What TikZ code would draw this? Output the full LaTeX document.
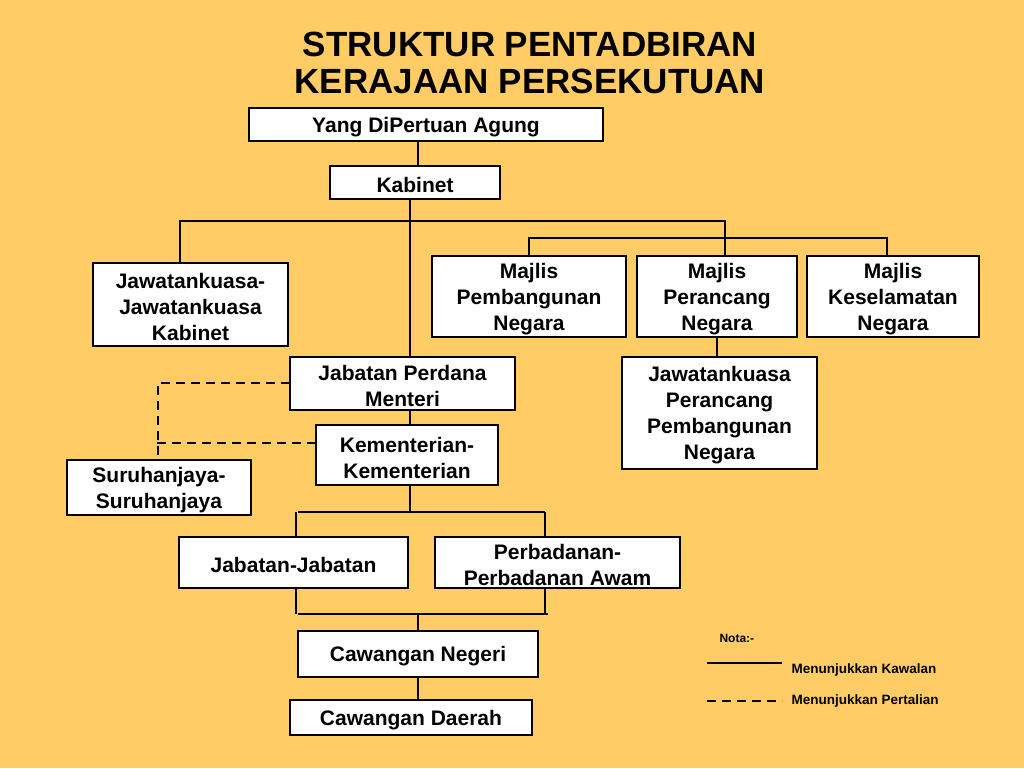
\documentclass[tikz,border=0pt]{standalone}
\usepackage{fontspec}
\setmainfont{Liberation Sans}
\begin{document}
\begin{tikzpicture}[x=1pt,y=-1pt,
 bx/.style={draw=black,fill=white,line width=2.5pt},
 tx/.style={font=\bfseries\fontsize{21}{26}\selectfont,align=center,yshift=-2.5pt},
 ln/.style={line width=1.8pt},
 dl/.style={line width=2pt,dash pattern=on 9pt off 6pt}]
\fill[fill={rgb,255:red,255;green,204;blue,102}] (0,0) rectangle (1024,768);
\useasboundingbox (0,0) rectangle (1024,768);
\node[font=\bfseries\fontsize{35}{37}\selectfont,align=center] (title) at (530,63) {STRUKTUR PENTADBIRAN\\KERAJAAN PERSEKUTUAN};
\newcommand\bxx[6]{\draw[bx] (#2,#4) rectangle (#3,#5); \node[tx] (#1) at ({(#2+#3)/2},{(#4+#5)/2}) {#6};}
\bxx{ya}{249}{603}{108}{141}{Yang DiPertuan Agung}
\bxx{kab}{330}{500}{166}{199}{Kabinet}
\bxx{jjk}{93}{288}{263}{346}{Jawatankuasa-\\Jawatankuasa\\Kabinet}
\bxx{mpn}{432}{626}{256}{337}{Majlis\\Pembangunan\\Negara}
\bxx{mpr}{637}{797}{256}{337}{Majlis\\Perancang\\Negara}
\bxx{mkn}{807}{979}{256}{337}{Majlis\\Keselamatan\\Negara}
\bxx{jpm}{290}{515}{357}{410}{Jabatan Perdana\\Menteri}
\bxx{kem}{316}{498}{425}{485}{Kementerian-\\Kementerian}
\bxx{sur}{67}{251}{460}{515}{Suruhanjaya-\\Suruhanjaya}
\bxx{jpp}{622}{817}{357}{469}{Jawatankuasa\\Perancang\\Pembangunan\\Negara}
\bxx{jj}{179}{408}{537}{588}{Jabatan-Jabatan}
\bxx{pa}{435}{680}{537}{588}{Perbadanan-\\Perbadanan Awam}
\bxx{cn}{298}{538}{631}{677}{Cawangan Negeri}
\bxx{cd}{290}{532}{700}{735}{Cawangan Daerah}
% connectors
\draw[ln] (418,141) -- (418,166);
\draw[ln] (410,199) -- (410,357);
\draw[ln] (180,263) -- (180,221) -- (725,221) -- (725,256);
\draw[ln] (529,256) -- (529,238) -- (887,238) -- (887,256);
\draw[ln] (717,337) -- (717,357);
\draw[ln] (410,410) -- (410,425);
\draw[ln] (410,485) -- (410,512);
\draw[ln] (298,512) -- (545,512);
\draw[ln] (296,512) -- (296,537);
\draw[ln] (545,512) -- (545,537);
\draw[ln] (296,588) -- (296,614);
\draw[ln] (545,588) -- (545,614);
\draw[ln] (298,614) -- (548,614);
\draw[ln] (418,614) -- (418,631);
\draw[ln] (418,677) -- (418,700);
\draw[dl] (290,383) -- (158,383) -- (158,460);
\draw[dl] (316,443) -- (155,443);
% legend
\node[font=\bfseries\fontsize{12}{14}\selectfont,anchor=west] (nota) at (716,638) {Nota:-};
\draw[ln] (707,663) -- (782,663);
\draw[dl] (707,701) -- (782,701);
\node[font=\bfseries\fontsize{13.5}{15}\selectfont,anchor=west] (l1) at (788,670) {Menunjukkan Kawalan};
\node[font=\bfseries\fontsize{13.5}{15}\selectfont,anchor=west] (l2) at (788,701) {Menunjukkan Pertalian};
\end{tikzpicture}
\end{document}
